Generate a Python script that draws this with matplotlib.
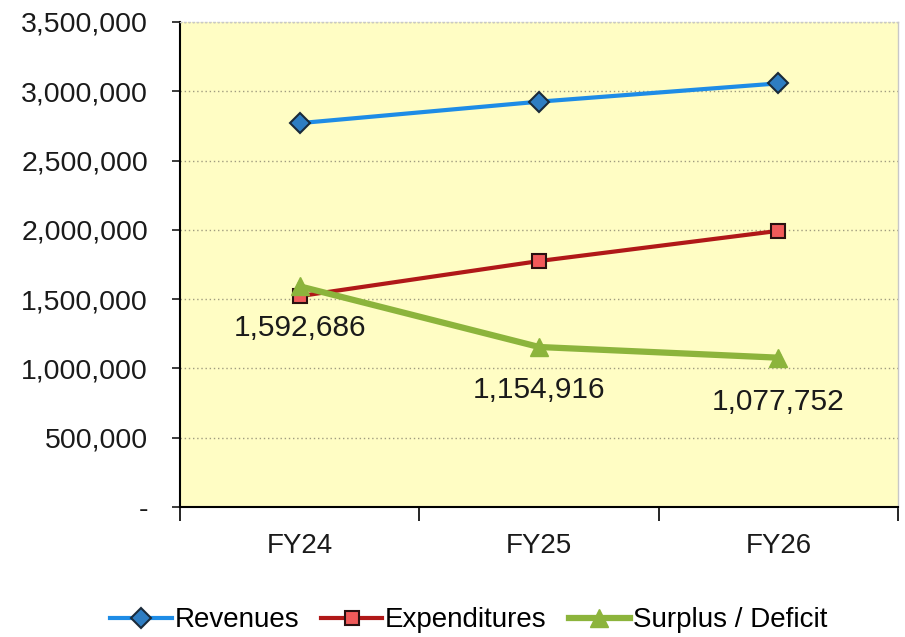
import matplotlib.pyplot as plt
from matplotlib.ticker import FuncFormatter, FixedLocator

years = ['FY24', 'FY25', 'FY26']
revenues = [2770000, 2925000, 3057000]
expenditures = [1522000, 1775000, 1993000]
surplus = [1592686, 1154916, 1077752]

plt.rcParams['font.family'] = ['Liberation Sans', 'DejaVu Sans']

fig = plt.figure(figsize=(9.05, 6.37), dpi=100)
ax = fig.add_axes([0.1989, 0.204, 0.7934, 0.7615])
ax.set_facecolor('#FFFDC4')

x = list(range(len(years)))
ax.plot(x, revenues, color='#1E8CE6', lw=3, marker='D', ms=10,
        mfc='#2E7DC2', mec='#1A2A3A', mew=1.5, label='Revenues', zorder=3)
ax.plot(x, expenditures, color='#B01818', lw=3, marker='s', ms=10,
        mfc='#F05A5A', mec='#2A1010', mew=1.5, label='Expenditures', zorder=3)
ax.plot(x, surplus, color='#8CB43C', lw=4.5, marker='^', ms=13,
        mfc='#8CB43C', mec='#8CB43C', label='Surplus / Deficit', zorder=4)

# data labels under the surplus points
offsets = [-30, -31, -32]
for xi, v, off in zip(x, surplus, offsets):
    ax.annotate(f'{v:,}', (xi, v), xytext=(0, off), textcoords='offset points',
                ha='center', va='center', fontsize=21.5, color='#1a1a1a')

ax.set_xlim(-0.5, 2.5)
ax.set_ylim(0, 3500000)
ax.set_yticks(range(0, 3500001, 500000))
ax.yaxis.set_major_formatter(FuncFormatter(lambda v, p: '-' if v == 0 else f'{v:,.0f}'))
ax.tick_params(axis='y', labelsize=20.5, length=6, width=1.2, pad=17, colors='#1a1a1a')

ax.xaxis.set_major_locator(FixedLocator([-0.5, 0.5, 1.5, 2.5]))
ax.xaxis.set_minor_locator(FixedLocator(x))
ax.set_xticklabels([], minor=False)
ax.set_xticklabels(years, minor=True)
ax.tick_params(axis='x', which='major', length=10, width=1.2, direction='out')
ax.tick_params(axis='x', which='minor', length=0, labelsize=20, pad=19, colors='#1a1a1a')

ax.grid(axis='y', color='#A09C80', lw=1, ls=(0, (1, 2)))
ax.set_axisbelow(True)
for s in ['top', 'right']:
    ax.spines[s].set_color('#C8C8C8')
    ax.spines[s].set_linewidth(1)
ax.spines['top'].set_linestyle((0, (1, 2)))
ax.spines['left'].set_linewidth(1.5)
ax.spines['bottom'].set_linewidth(1.5)

fig.legend(loc='center', bbox_to_anchor=(0.518, 0.026), ncol=3, frameon=False,
           fontsize=20, handlelength=2.2, handletextpad=0.1, columnspacing=0.8)

fig.savefig('out.png', dpi=100)
